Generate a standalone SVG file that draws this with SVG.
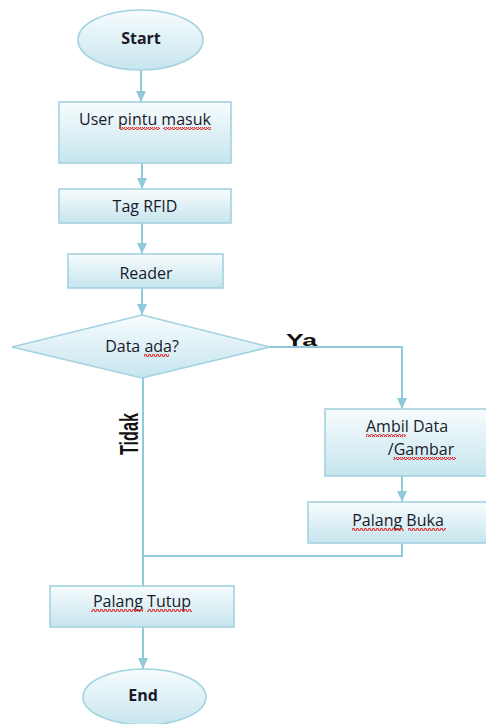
<svg xmlns="http://www.w3.org/2000/svg" width="486" height="724" viewBox="0 0 486 724">
<defs>
<linearGradient id="g" x1="0" y1="0" x2="0" y2="1">
<stop offset="0" stop-color="#f7fcfd"/>
<stop offset="1" stop-color="#c6e5ee"/>
</linearGradient>
<pattern id="sq" width="4" height="3" patternUnits="userSpaceOnUse">
<path d="M0,2.5 L1,0.5 L2,0.5 L3,2.5 L4,2.5" fill="none" stroke="#e03030" stroke-width="1.1"/>
</pattern>
<marker id="ar" markerUnits="userSpaceOnUse" markerWidth="12" markerHeight="10" refX="11" refY="5" orient="auto">
<path d="M0,0 L11,5 L0,10 Z" fill="#8fcadb"/>
</marker>
</defs>
<style>
.n{fill:url(#g);stroke:#a3d3e0;stroke-width:1.6}
.t{font-family:"Open Sans","Liberation Sans",sans-serif;font-size:16px;fill:#1a1a2a;text-anchor:middle}
.b{font-weight:bold}
.c{fill:none;stroke:#8fcadb;stroke-width:2}
.u{fill:url(#sq)}
</style>
<rect width="486" height="724" fill="#ffffff"/>
<g id="connectors">
<path class="c" d="M141,70 V102" marker-end="url(#ar)"/>
<path class="c" d="M142,163 V189" marker-end="url(#ar)"/>
<path class="c" d="M142,223 V254" marker-end="url(#ar)"/>
<path class="c" d="M142,288 V315" marker-end="url(#ar)"/>
<path class="c" d="M270,347 H402 V409" marker-end="url(#ar)"/>
<path class="c" d="M402,476 V502" marker-end="url(#ar)"/>
<path class="c" d="M402,543 V556 H143"/>
<path class="c" d="M143,377 V586"/>
<path class="c" d="M143,627 V669" marker-end="url(#ar)"/>
<text x="286" y="346" font-family="Liberation Sans,Arial,sans-serif" font-weight="bold" font-size="16" fill="#111" textLength="31" lengthAdjust="spacingAndGlyphs">Ya</text>
<text transform="translate(138,455) rotate(-90)" font-family="Liberation Sans,Arial,sans-serif" font-weight="bold" font-size="26" fill="#111" textLength="42" lengthAdjust="spacingAndGlyphs">Tidak</text>
</g>
<g id="start">
<ellipse class="n" cx="140.5" cy="40" rx="62.5" ry="30"/>
<text class="t b" x="141" y="44">Start</text>
</g>
<g id="user">
<rect class="n" x="59" y="102" width="172" height="61"/>
<text class="t" x="145" y="125">User pintu masuk</text>
<rect class="u" x="119" y="127" width="41" height="3"/>
<rect class="u" x="163" y="127" width="48" height="3"/>
</g>
<g id="tag">
<rect class="n" x="59" y="189" width="172" height="34"/>
<text class="t" x="145" y="212">Tag RFID</text>
</g>
<g id="reader">
<rect class="n" x="68" y="254" width="155" height="34"/>
<text class="t" x="146" y="279">Reader</text>
</g>
<g id="decision">
<path class="n" d="M142,315 L270,347 L142,378 L12,347 Z"/>
<text class="t" x="142" y="352">Data ada?</text>
<rect class="u" x="144" y="354" width="25" height="3"/>
</g>
<g id="ambil">
<rect class="n" x="325" y="409" width="170" height="67"/>
<text class="t" x="407" y="432">Ambil Data</text>
<rect class="u" x="366" y="434" width="40" height="3"/>
<text class="t" x="421" y="455">/Gambar</text>
<rect class="u" x="393" y="457" width="63" height="3"/>
</g>
<g id="buka">
<rect class="n" x="308" y="502" width="187" height="41"/>
<text class="t" x="398" y="526">Palang Buka</text>
<rect class="u" x="352" y="528" width="52" height="3"/>
<rect class="u" x="408" y="528" width="38" height="3"/>
</g>
<g id="tutup">
<rect class="n" x="50" y="586" width="184" height="41"/>
<text class="t" x="142" y="607">Palang Tutup</text>
<rect class="u" x="91" y="609" width="52" height="3"/>
<rect class="u" x="147" y="609" width="45" height="3"/>
</g>
<g id="end">
<ellipse class="n" cx="144.5" cy="697" rx="61.5" ry="28"/>
<text class="t b" x="143" y="701">End</text>
</g>
</svg>
